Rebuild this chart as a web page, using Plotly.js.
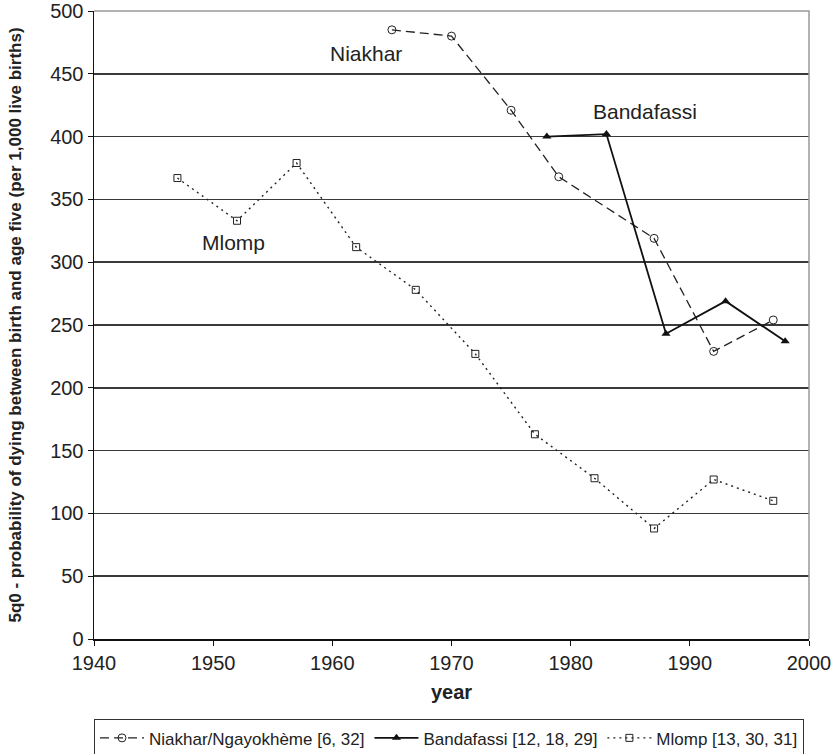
<!DOCTYPE html>
<html>
<head>
<meta charset="utf-8">
<script src="https://cdn.plot.ly/plotly-3.0.1.min.js"></script>
<style>
  body { margin: 0; background: #fff; }
  #plotArea { width: 835px; height: 754px; }
</style>
</head>
<body>
<div id="plotArea"></div>
<script>
// Niakhar/Ngayokhème
var niakharYears = [1965, 1970, 1975, 1979, 1987, 1992, 1997];
var niakharQ = [485, 480, 421, 368, 319, 229, 254];

// Bandafassi
var bandaYears = [1978, 1983, 1988, 1993, 1998];
var bandaQ = [400, 402, 243, 269, 237];

// Mlomp
var mlompYears = [1947, 1952, 1957, 1962, 1967, 1972, 1977, 1982, 1987, 1992, 1997];
var mlompQ = [367, 333, 379, 312, 278, 227, 163, 128, 88, 127, 110];

var seriesNames = ["Niakhar/Ngayokhème [6, 32]", "Bandafassi [12, 18, 29]", "Mlomp [13, 30, 31]"];

var fontFam = "Liberation Sans, Arial, sans-serif";

var niakhar = {
    x: niakharYears,
    y: niakharQ,
    name: seriesNames[0],
    mode: "lines+markers",
    type: "scatter",
    line: {color: "#222", width: 1.3, dash: "9px,5px"},
    marker: {symbol: "circle-open", size: 8, color: "#222", line: {width: 1}}
};

var banda = {
    x: bandaYears,
    y: bandaQ,
    name: seriesNames[1],
    mode: "lines+markers",
    type: "scatter",
    line: {color: "#111", width: 1.8},
    marker: {symbol: "triangle-up", size: 8, color: "#111"}
};

var mlomp = {
    x: mlompYears,
    y: mlompQ,
    name: seriesNames[2],
    mode: "lines+markers",
    type: "scatter",
    line: {color: "#222", width: 1.4, dash: "2px,4px"},
    marker: {symbol: "square-open", size: 7, color: "#222", line: {width: 1}}
};

var layout = {
    width: 835,
    height: 754,
    margin: {l: 94, r: 26, t: 11, b: 115},
    paper_bgcolor: "#fff",
    plot_bgcolor: "#fff",
    font: {family: fontFam, color: "#222", size: 20},
    showlegend: true,
    legend: {
        orientation: "h",
        x: 0, xanchor: "left",
        yref: "container",
        y: 0.046, yanchor: "top",
        bordercolor: "#333", borderwidth: 1,
        font: {size: 17, color: "#222"},
        itemwidth: 44
    },
    xaxis: {
        range: [1940, 2000],
        dtick: 10,
        tick0: 1940,
        showgrid: false,
        zeroline: false,
        showline: true,
        linecolor: "#111",
        linewidth: 1.5,
        ticks: "outside",
        ticklen: 5,
        tickcolor: "#111",
        tickfont: {size: 20},
        title: {text: "<b>year</b>", font: {size: 20}, standoff: 12}
    },
    yaxis: {
        range: [0, 500],
        dtick: 50,
        showgrid: true,
        gridcolor: "#3a3a3a",
        gridwidth: 1.5,
        zeroline: false,
        showline: true,
        linecolor: "#111",
        linewidth: 1.5,
        ticks: "outside",
        ticklen: 5,
        tickcolor: "#111",
        tickfont: {size: 20},
        title: {text: "<b>5q0 - probability of dying between birth and age five (per 1,000 live births)</b>", font: {size: 17}, standoff: 24}
    },
    shapes: [{
        type: "path",
        xref: "paper", yref: "paper",
        path: "M 0,1 L 1,1 L 1,0",
        line: {color: "#999", width: 1.5},
        layer: "above"
    }],
    annotations: [
        {x: 1962.8, y: 466, text: "Niakhar", showarrow: false, font: {size: 21}},
        {x: 1986.2, y: 420, text: "Bandafassi", showarrow: false, font: {size: 21}},
        {x: 1951.7, y: 316, text: "Mlomp", showarrow: false, font: {size: 21}}
    ]
};

Plotly.newPlot("plotArea", [niakhar, banda, mlomp], layout, {displayModeBar: false, staticPlot: true});
</script>
</body>
</html>
